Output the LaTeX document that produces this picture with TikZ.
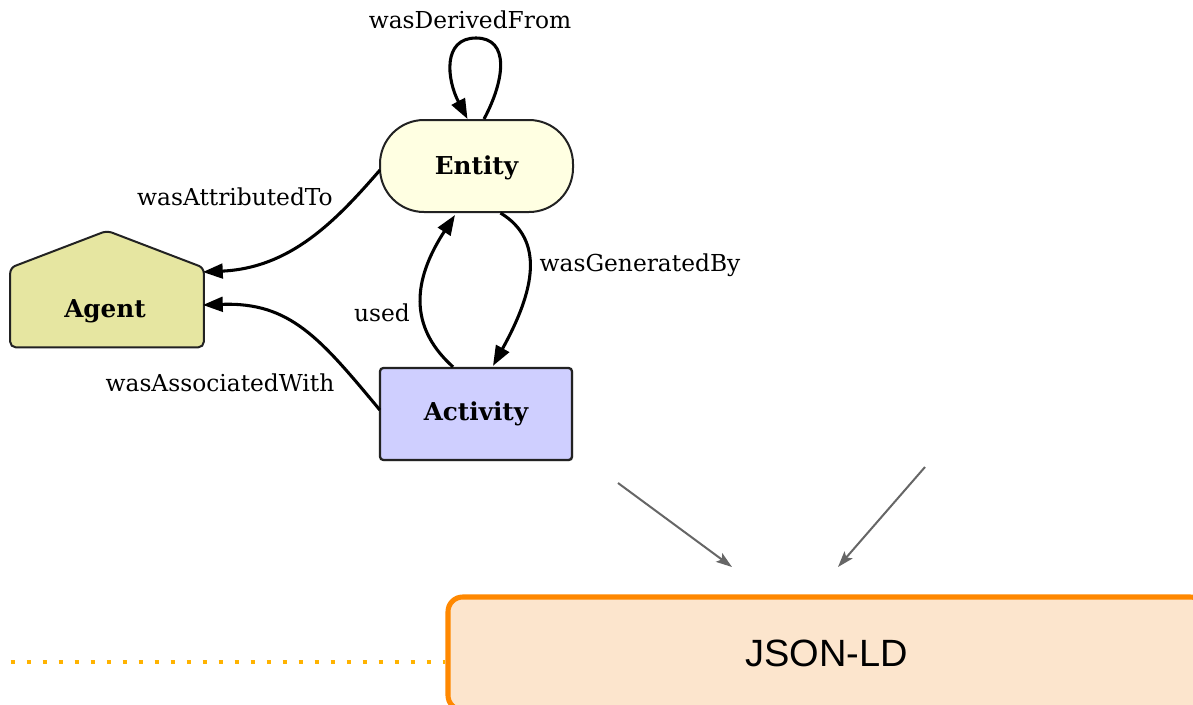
\documentclass[tikz,border=0pt]{standalone}
\usepackage{fontspec}
\setmainfont{DejaVu Serif}
\newfontfamily\jsonfont{Liberation Sans}
\usetikzlibrary{arrows.meta,calc,shadows}
\definecolor{entityfill}{HTML}{FFFFE2}
\definecolor{agentfill}{HTML}{E6E6A1}
\definecolor{activityfill}{HTML}{CFCFFF}
\definecolor{jsonfill}{HTML}{FCE5CD}
\definecolor{jsonborder}{HTML}{FF8800}
\definecolor{dotcol}{HTML}{FFB300}
\definecolor{grayarrow}{HTML}{666666}
\definecolor{nodeline}{HTML}{222222}
\tikzset{
  lbl/.style={font=\fontsize{17.5}{20}\selectfont, inner sep=0pt},
  nodetext/.style={font=\fontsize{18.5}{22}\selectfont\bfseries},
  entitybox/.style={draw=nodeline, line width=1.5pt, fill=entityfill, rounded corners=33pt,
     minimum width=144.75pt, minimum height=69pt, inner sep=0pt},
  activitybox/.style={draw=nodeline, line width=1.7pt, fill=activityfill, rounded corners=2.5pt,
     minimum width=144pt, minimum height=69pt, inner sep=0pt,
     drop shadow={shadow xshift=0.8pt, shadow yshift=-0.8pt, opacity=0.6}},
  agentbox/.style={minimum width=144.75pt, minimum height=59.25pt, inner sep=0pt},
  agentshape/.style={draw=nodeline, line width=1.5pt, fill=agentfill, rounded corners=4pt},
  rel/.style={line width=2.3pt, -{Triangle[length=15pt,width=11pt]}},
  grayarr/.style={draw=grayarrow, line width=1.5pt, -{Stealth[length=12pt,width=8pt,inset=2.5pt]}},
  jsonbox/.style={draw=jsonborder, line width=3.8pt, fill=jsonfill, rounded corners=11pt,
     minimum width=567.75pt, minimum height=84.75pt, inner sep=0pt,
     font=\jsonfont\fontsize{28.5}{32}\selectfont},
  dotline/.style={draw=dotcol, line width=3.2pt, dash pattern=on 3.2pt off 8.8pt, dash phase=-8pt}
}
\begin{document}
\begin{tikzpicture}[x=0.75pt,y=-0.75pt]
\useasboundingbox (0,0) rectangle (1193,704);
\begin{scope}
\clip (0,0) rectangle (1193,704);
% JSON-LD box
\node[jsonbox] (jsonld) at (826.5,653.5) {JSON-LD};
\coordinate (dotstart) at (0,662);
\draw[dotline] (dotstart) -- (dotstart -| jsonld.west);
\end{scope}

% PROV nodes
\node[entitybox] (entity) at (476.5,166) {};
\node[nodetext] at (476.5,168) {Entity};
\node[activitybox] (activity) at (476,414) {};
\node[nodetext] at (476,414) {Activity};
\node[agentbox] (agent) at (107,307.5) {};
\path[agentshape] (agent.north west) -- ($(agent.north)+(0,-37)$) -- (agent.north east)
   -- (agent.south east) -- (agent.south west) -- cycle;
\node[nodetext] at (105,311) {Agent};

% relations
\draw[rel] ($(entity.north)+(7.5,0)$) .. controls (505,80) and (510,38) .. (476,38)
   .. controls (442,38) and (447,80) .. ($(entity.north)+(-9,0)$);
\node[lbl] (lderived) at (470,20) {wasDerivedFrom};

\draw[rel] ($(entity.west)+(1,4)$) .. controls (335,222) and (290,268) .. ($(agent.east)+(-1,-35.5)$);
\node[lbl] (lattr) at (235,197) {wasAttributedTo};

\draw[rel] ($(activity.west)+(1,-4)$) .. controls (320,338) and (290,302) .. ($(agent.east)+(-1,-2.5)$);
\node[lbl] (lassoc) at (220,383) {wasAssociatedWith};

\draw[rel] ($(activity.north)+(-23,0)$) .. controls (403,322) and (418,272) .. ($(entity.south)+(-21.5,2)$);
\node[lbl] (lused) at (382,313) {used};

\draw[rel] ($(entity.south)+(24,0)$) .. controls (545,240) and (535,290) .. ($(activity.north)+(17,-1)$);
\node[lbl] (lgen) at (640,265) {wasGeneratedBy};

% gray arrows into JSON-LD
\coordinate (g1) at (618,483);
\coordinate (g1e) at (732,567);
\coordinate (g2) at (925,467);
\coordinate (g2e) at (838,567);
\draw[grayarr] (g1) -- (g1e);
\draw[grayarr] (g2) -- (g2e);
\end{tikzpicture}
\end{document}
